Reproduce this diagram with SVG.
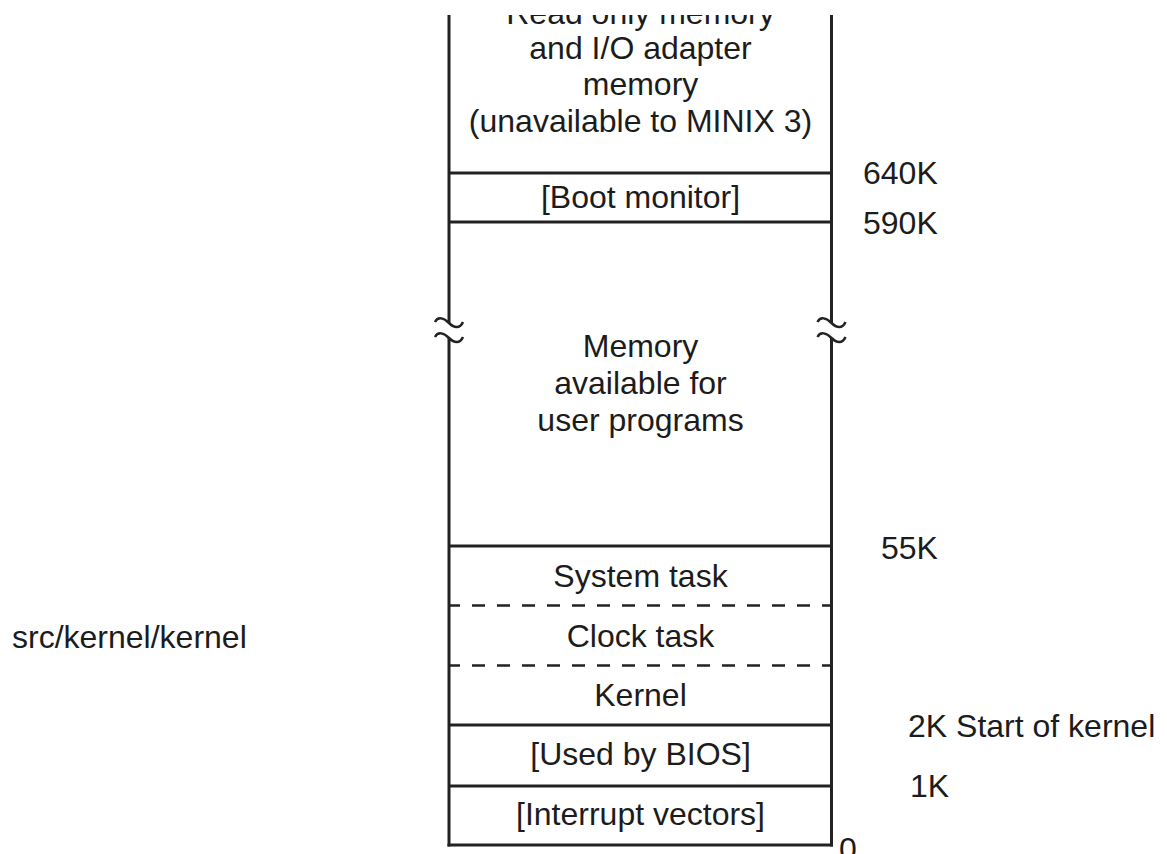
<svg xmlns="http://www.w3.org/2000/svg" width="1167" height="854" viewBox="0 0 1167 854">
<style>
  text { font-family: "Liberation Sans", Arial, sans-serif; font-size: 32px; fill: #1c1c1c; }
  .c { text-anchor: middle; }
  .solid { stroke: #222; stroke-width: 3; fill: none; }
  .dash { stroke: #222; stroke-width: 2.5; stroke-dasharray: 13 12; stroke-dashoffset: 2; fill: none; }
  .wave { stroke: #222; stroke-width: 2.5; fill: none; }
</style>
<defs>
  <clipPath id="topclip"><rect x="0" y="15" width="1167" height="839"/></clipPath>
</defs>
<rect width="1167" height="854" fill="#fff"/>
<g clip-path="url(#topclip)">
  <g id="frame">
    <line class="solid" x1="449" y1="0" x2="449" y2="323"/>
    <line class="solid" x1="449" y1="338" x2="449" y2="846.5"/>
    <line class="solid" x1="831.5" y1="0" x2="831.5" y2="323"/>
    <line class="solid" x1="831.5" y1="338" x2="831.5" y2="846.5"/>
    <line class="solid" x1="447.5" y1="845" x2="833" y2="845"/>
    <path class="wave" d="M435,322 C438,316 444,318 449,323 S460,329 463,322"/>
    <path class="wave" d="M435,337 C438,331 444,333 449,338 S460,344 463,337"/>
    <path class="wave" d="M817.5,322 C820.5,316 826.5,318 831.5,323 S842.5,329 845.5,322"/>
    <path class="wave" d="M817.5,337 C820.5,331 826.5,333 831.5,338 S842.5,344 845.5,337"/>
  </g>
  <g id="rom">
    <text class="c" x="640.5" y="24">Read only memory</text>
    <text class="c" x="640.5" y="59">and I/O adapter</text>
    <text class="c" x="640.5" y="95">memory</text>
    <text class="c" x="640.5" y="131.5">(unavailable to MINIX 3)</text>
  </g>
  <g id="boot-monitor">
    <line class="solid" x1="449" y1="173" x2="831.5" y2="173"/>
    <text class="c" x="640.5" y="208">[Boot monitor]</text>
  </g>
  <g id="user-memory">
    <line class="solid" x1="449" y1="222" x2="831.5" y2="222"/>
    <text class="c" x="640.5" y="357">Memory</text>
    <text class="c" x="640.5" y="394">available for</text>
    <text class="c" x="640.5" y="431">user programs</text>
  </g>
  <g id="system-task">
    <line class="solid" x1="449" y1="546" x2="831.5" y2="546"/>
    <text class="c" x="640.5" y="587">System task</text>
  </g>
  <g id="clock-task">
    <line class="dash" x1="449" y1="605.5" x2="831.5" y2="605.5"/>
    <text class="c" x="640.5" y="647">Clock task</text>
  </g>
  <g id="kernel">
    <line class="dash" x1="449" y1="665.5" x2="831.5" y2="665.5"/>
    <text class="c" x="640.5" y="706">Kernel</text>
  </g>
  <g id="bios">
    <line class="solid" x1="449" y1="725" x2="831.5" y2="725"/>
    <text class="c" x="640.5" y="765">[Used by BIOS]</text>
  </g>
  <g id="interrupt-vectors">
    <line class="solid" x1="449" y1="786" x2="831.5" y2="786"/>
    <text class="c" x="640.5" y="825">[Interrupt vectors]</text>
  </g>
  <g id="labels">
    <text x="863" y="184">640K</text>
    <text x="863" y="234">590K</text>
    <text x="881" y="559">55K</text>
    <text x="908" y="737">2K Start of kernel</text>
    <text x="910" y="797">1K</text>
    <text x="839" y="860">0</text>
    <text x="12" y="648">src/kernel/kernel</text>
  </g>
</g>
</svg>
